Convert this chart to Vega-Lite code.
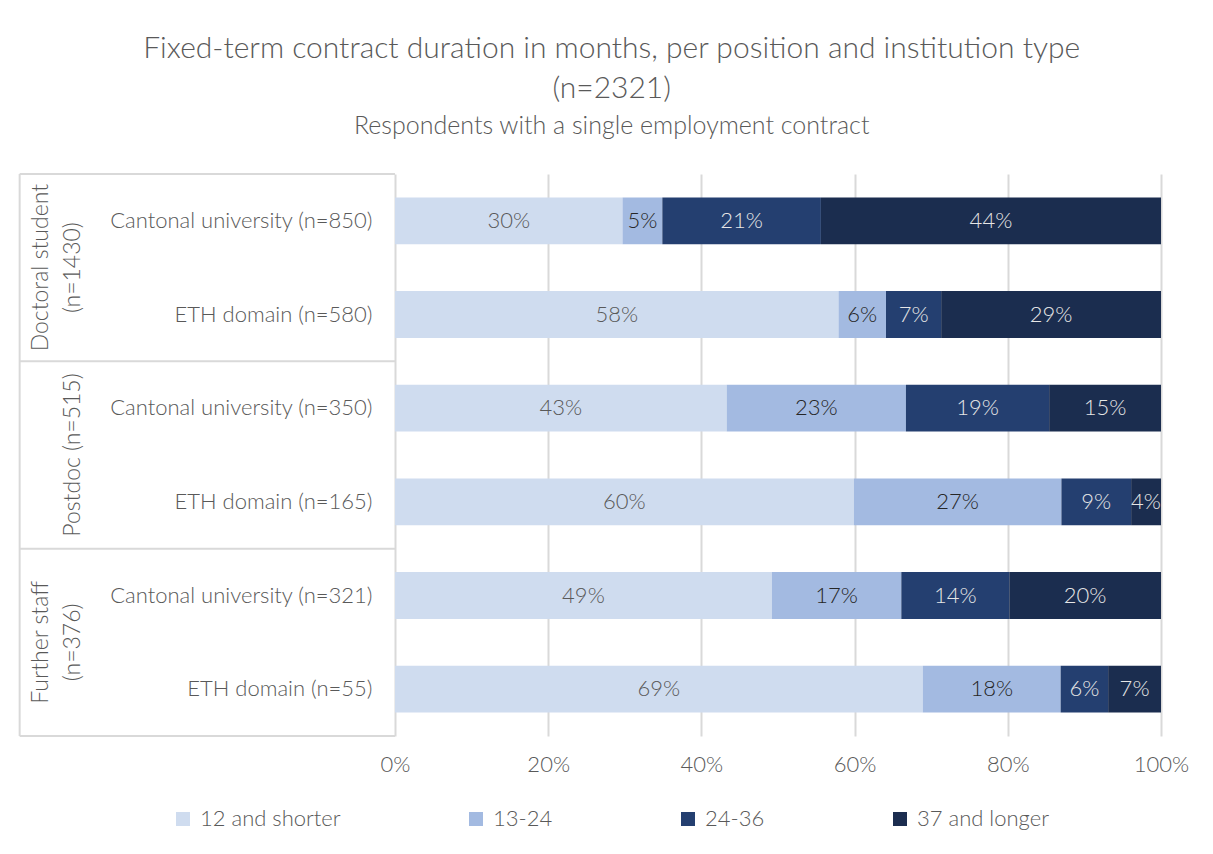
{
  "$schema": "https://vega.github.io/schema/vega-lite/v6.json",
  "width": 766,
  "height": 562,
  "padding": {"left": 18, "top": 33, "right": 20, "bottom": 10},
  "background": "white",
  "config": {
    "font": "Lato",
    "view": {"stroke": null},
    "axis": {"labelFont": "Lato", "labelFontWeight": 300, "labelColor": "#595959"},
    "legend": {"labelFont": "Lato", "labelFontWeight": 300, "labelColor": "#595959"}
  },
  "title": {
    "text": ["Fixed-term contract duration in months, per position and institution type", "(n=2321)"],
    "subtitle": "Respondents with a single employment contract",
    "fontSize": 30,
    "fontWeight": 300,
    "font": "Lato",
    "color": "#595959",
    "lineHeight": 40,
    "subtitleFont": "Lato",
    "subtitleFontSize": 25,
    "subtitleFontWeight": 300,
    "subtitleColor": "#595959",
    "subtitlePadding": 10,
    "anchor": "middle",
    "frame": "bounds",
    "dx": 8,
    "offset": 34
  },
  "datasets": {
    "bars": [
      {"inst": "Cantonal university (n=850)", "cat": "12 and shorter", "value": 29.7},
      {"inst": "Cantonal university (n=850)", "cat": "13-24", "value": 5.2},
      {"inst": "Cantonal university (n=850)", "cat": "24-36", "value": 20.7},
      {"inst": "Cantonal university (n=850)", "cat": "37 and longer", "value": 44.4},
      {"inst": "ETH domain (n=580)", "cat": "12 and shorter", "value": 57.9},
      {"inst": "ETH domain (n=580)", "cat": "13-24", "value": 6.2},
      {"inst": "ETH domain (n=580)", "cat": "24-36", "value": 7.2},
      {"inst": "ETH domain (n=580)", "cat": "37 and longer", "value": 28.7},
      {"inst": "Cantonal university (n=350)", "cat": "12 and shorter", "value": 43.3},
      {"inst": "Cantonal university (n=350)", "cat": "13-24", "value": 23.4},
      {"inst": "Cantonal university (n=350)", "cat": "24-36", "value": 18.7},
      {"inst": "Cantonal university (n=350)", "cat": "37 and longer", "value": 14.6},
      {"inst": "ETH domain (n=165)", "cat": "12 and shorter", "value": 59.9},
      {"inst": "ETH domain (n=165)", "cat": "13-24", "value": 27.1},
      {"inst": "ETH domain (n=165)", "cat": "24-36", "value": 9.1},
      {"inst": "ETH domain (n=165)", "cat": "37 and longer", "value": 3.9},
      {"inst": "Cantonal university (n=321)", "cat": "12 and shorter", "value": 49.2},
      {"inst": "Cantonal university (n=321)", "cat": "13-24", "value": 16.9},
      {"inst": "Cantonal university (n=321)", "cat": "24-36", "value": 14.1},
      {"inst": "Cantonal university (n=321)", "cat": "37 and longer", "value": 19.8},
      {"inst": "ETH domain (n=55)", "cat": "12 and shorter", "value": 68.9},
      {"inst": "ETH domain (n=55)", "cat": "13-24", "value": 18.0},
      {"inst": "ETH domain (n=55)", "cat": "24-36", "value": 6.2},
      {"inst": "ETH domain (n=55)", "cat": "37 and longer", "value": 6.9}
    ],
    "groups": [
      {"inst": "Cantonal university (n=850)", "label": "Doctoral student|(n=1430)"},
      {"inst": "Cantonal university (n=350)", "label": "|Postdoc (n=515)"},
      {"inst": "Cantonal university (n=321)", "label": "Further staff|(n=376)"}
    ],
    "groupEnds": [
      {"inst": "ETH domain (n=580)"},
      {"inst": "ETH domain (n=165)"},
      {"inst": "ETH domain (n=55)"}
    ],
    "groupTop": [
      {"inst": "Cantonal university (n=850)"}
    ]
  },
  "layer": [
    {
      "data": {"name": "bars"},
      "mark": {"type": "bar"},
      "encoding": {
        "y": {
          "field": "inst", "type": "nominal",
          "scale": {"domain": ["Cantonal university (n=850)", "ETH domain (n=580)", "Cantonal university (n=350)", "ETH domain (n=165)", "Cantonal university (n=321)", "ETH domain (n=55)"], "paddingInner": 0.5, "paddingOuter": 0.25},
          "axis": {"title": null, "labelFontSize": 22, "labelPadding": 23, "labelLimit": 0, "domain": false, "ticks": false, "grid": false}
        },
        "x": {
          "field": "value", "type": "quantitative", "stack": "zero",
          "scale": {"domain": [0, 100], "nice": false},
          "axis": {"title": null, "values": [0, 20, 40, 60, 80, 100], "labelExpr": "datum.value + '%'", "labelFlush": false, "grid": true, "gridColor": "#d9d9d9", "gridWidth": 2, "domain": false, "ticks": false, "labelFontSize": 22, "labelPadding": 18}
        },
        "color": {
          "field": "cat", "type": "nominal",
          "scale": {"domain": ["12 and shorter", "13-24", "24-36", "37 and longer"], "range": ["#cfdcef", "#a3bae1", "#243f70", "#1b2d4f"]},
          "legend": {"title": null, "orient": "none", "legendX": -223, "legendY": 634, "direction": "horizontal", "columns": 4, "columnPadding": 124, "symbolType": "square", "symbolSize": 196, "symbolStrokeWidth": 0, "labelFontSize": 22, "labelOffset": 6}
        }
      }
    },
    {
      "data": {"name": "bars"},
      "transform": [
        {"stack": "value", "groupby": ["inst"], "sort": [{"field": "cat"}], "as": ["v0", "v1"]},
        {"calculate": "(datum.v0 + datum.v1) / 2", "as": "mid"},
        {"calculate": "format(datum.value, '.0f') + '%'", "as": "lbl"}
      ],
      "mark": {"type": "text", "fontSize": 22, "fontWeight": 300, "font": "Lato", "align": "center", "baseline": "middle"},
      "encoding": {
        "y": {"field": "inst", "type": "nominal", "scale": {"domain": ["Cantonal university (n=850)", "ETH domain (n=580)", "Cantonal university (n=350)", "ETH domain (n=165)", "Cantonal university (n=321)", "ETH domain (n=55)"]}},
        "x": {"field": "mid", "type": "quantitative"},
        "text": {"field": "lbl"},
        "color": {
          "condition": [
            {"test": "datum.cat === '12 and shorter'", "value": "#595959"},
            {"test": "datum.cat === '13-24'", "value": "#262626"}
          ],
          "value": "#e6e6e6"
        }
      }
    },
    {
      "data": {"name": "groups"},
      "mark": {"type": "text", "angle": 270, "lineBreak": "|", "lineHeight": 32, "fontSize": 23, "fontWeight": 300, "font": "Lato", "color": "#595959", "align": "center", "baseline": "middle"},
      "encoding": {
        "y": {"field": "inst", "type": "nominal", "bandPosition": 1.5, "scale": {"domain": ["Cantonal university (n=850)", "ETH domain (n=580)", "Cantonal university (n=350)", "ETH domain (n=165)", "Cantonal university (n=321)", "ETH domain (n=55)"]}},
        "x": {"datum": -46.2, "type": "quantitative"},
        "text": {"field": "label"}
      }
    },
    {
      "data": {"name": "groupEnds"},
      "mark": {"type": "rule", "color": "#d9d9d9", "strokeWidth": 2},
      "encoding": {
        "y": {"field": "inst", "type": "nominal", "bandPosition": 1.5, "scale": {"domain": ["Cantonal university (n=850)", "ETH domain (n=580)", "Cantonal university (n=350)", "ETH domain (n=165)", "Cantonal university (n=321)", "ETH domain (n=55)"]}},
        "x": {"datum": -49, "type": "quantitative"},
        "x2": {"datum": 0}
      }
    },
    {
      "data": {"name": "groupTop"},
      "mark": {"type": "rule", "color": "#d9d9d9", "strokeWidth": 2},
      "encoding": {
        "y": {"field": "inst", "type": "nominal", "bandPosition": -0.5, "scale": {"domain": ["Cantonal university (n=850)", "ETH domain (n=580)", "Cantonal university (n=350)", "ETH domain (n=165)", "Cantonal university (n=321)", "ETH domain (n=55)"]}},
        "x": {"datum": -49, "type": "quantitative"},
        "x2": {"datum": 0}
      }
    },
    {
      "data": {"values": [{"edge": "left"}]},
      "mark": {"type": "rule", "color": "#d9d9d9", "strokeWidth": 2},
      "encoding": {
        "x": {"datum": -49, "type": "quantitative"}
      }
    }
  ]
}
